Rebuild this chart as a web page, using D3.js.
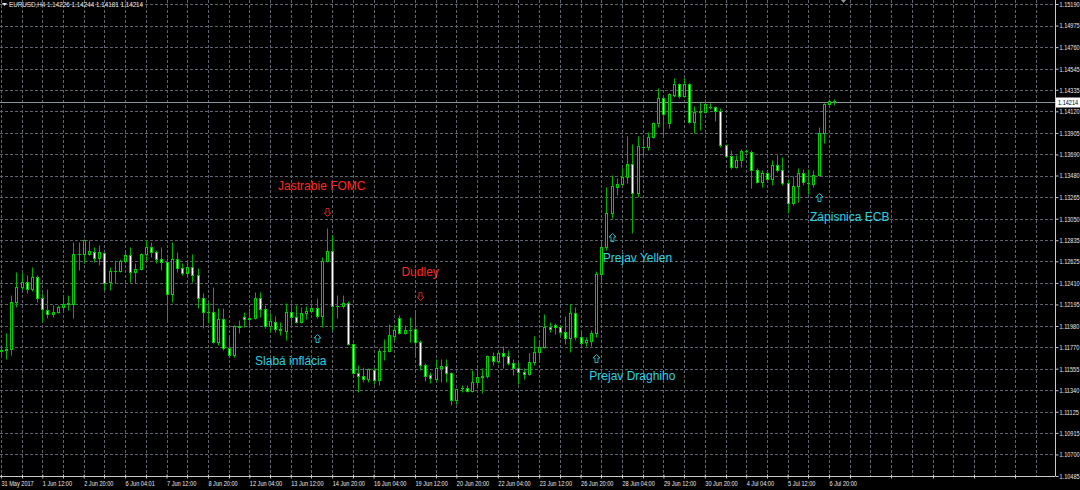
<!DOCTYPE html>
<html><head><meta charset="utf-8">
<script src="https://cdn.jsdelivr.net/npm/d3@7"></script>
<style>html,body{margin:0;padding:0;background:#000;}svg{display:block;}</style>
</head><body>
<svg id="chart" width="1080" height="490"></svg>
<script>
// ---------- DATA (EURUSD H4) ----------
const symbolTitle = "EURUSD,H4";
const opens = [1.11731,1.11741,1.11751,1.12220,1.12369,1.12419,1.12349,1.12469,1.12260,1.12140,
1.12100,1.12120,1.12170,1.12200,1.12200,1.12698,1.12698,1.12698,1.12718,1.12658,
1.12708,1.12419,1.12529,1.12525,1.12629,1.12688,1.12519,1.12549,1.12698,1.12768,
1.12718,1.12648,1.12619,1.12300,1.12648,1.12559,1.12509,1.12569,1.12489,1.12260,
1.12120,1.12115,1.11821,1.12050,1.11761,1.11691,1.11980,1.12070,1.12050,1.12060,
1.12260,1.12150,1.11980,1.12020,1.11950,1.11931,1.12120,1.12070,1.12020,1.12110,
1.12130,1.12160,1.12080,1.12629,1.12728,1.12180,1.12175,1.12210,1.11801,1.11512,
1.11482,1.11452,1.11542,1.11442,1.11731,1.11728,1.11881,1.12060,1.11911,1.11941,
1.11950,1.11821,1.11591,1.11492,1.11452,1.11561,1.11581,1.11512,1.11242,1.11362,
1.11360,1.11332,1.11422,1.11472,1.11477,1.11681,1.11631,1.11711,1.11681,1.11611,
1.11561,1.11522,1.11502,1.11621,1.11721,1.11771,1.11970,1.11990,1.11970,1.11921,
1.11861,1.12110,1.11871,1.11821,1.11831,1.11911,1.12499,1.12768,1.13107,1.13366,
1.13396,1.13466,1.13595,1.13307,1.13765,1.13762,1.13864,1.14004,1.14253,1.14004,
1.14283,1.14393,1.14273,1.14393,1.14014,1.14113,1.14113,1.14163,1.14160,1.14123,
1.13785,1.13675,1.13565,1.13635,1.13725,1.13715,1.13536,1.13416,1.13506,1.13446,
1.13585,1.13536,1.13406,1.13207,1.13376,1.13506,1.13406,1.13396,1.13486,1.13904,
1.14193,1.14226];
const highs = [1.11791,1.11911,1.12290,1.12519,1.12509,1.12489,1.12569,1.12489,1.12310,1.12349,
1.12190,1.12190,1.12290,1.12290,1.12818,1.12818,1.12848,1.12838,1.12768,1.12788,
1.12718,1.12569,1.12639,1.12648,1.12718,1.12768,1.12609,1.12708,1.12838,1.12818,
1.12738,1.12768,1.12658,1.12818,1.12718,1.12609,1.12619,1.12698,1.12559,1.12310,
1.12220,1.12369,1.12160,1.12160,1.11871,1.11990,1.12040,1.12120,1.12160,1.12320,
1.12320,1.12190,1.12110,1.12080,1.12020,1.12210,1.12210,1.12190,1.12170,1.12180,
1.12210,1.12260,1.12668,1.12957,1.12888,1.12290,1.12290,1.12230,1.11811,1.11591,
1.11571,1.11561,1.11561,1.11761,1.11851,1.12000,1.11990,1.12090,1.11990,1.12070,
1.12140,1.11841,1.11611,1.11522,1.11651,1.11651,1.11651,1.11522,1.11355,1.11392,
1.11392,1.11542,1.11561,1.11561,1.11691,1.11721,1.11721,1.11781,1.11741,1.11651,
1.11621,1.11561,1.11711,1.11881,1.11821,1.12100,1.12020,1.12010,1.11990,1.12080,
1.12200,1.12170,1.11921,1.11871,1.11941,1.12529,1.12838,1.13366,1.13486,1.13456,
1.13555,1.13874,1.13795,1.13874,1.13854,1.13914,1.14014,1.14353,1.14283,1.14303,
1.14453,1.14403,1.14453,1.14403,1.14173,1.14213,1.14243,1.14203,1.14173,1.14153,
1.13795,1.13735,1.13685,1.13745,1.13745,1.13735,1.13555,1.13536,1.13516,1.13635,
1.13685,1.13665,1.13446,1.13476,1.13555,1.13545,1.13545,1.13536,1.13964,1.14203,
1.14243,1.14244];
const lows = [1.11691,1.11651,1.11691,1.12170,1.12340,1.12310,1.12330,1.12220,1.12020,1.12060,
1.12070,1.12110,1.12120,1.12140,1.12060,1.12539,1.12609,1.12688,1.12619,1.12589,
1.12340,1.12340,1.12409,1.12519,1.12609,1.12419,1.12409,1.12539,1.12639,1.12668,
1.12609,1.12539,1.12020,1.12220,1.12519,1.12489,1.12469,1.12419,1.12160,1.11960,
1.12010,1.11811,1.11791,1.11741,1.11671,1.11671,1.11911,1.11970,1.11970,1.12050,
1.12070,1.11960,1.11921,1.11921,1.11891,1.11841,1.11990,1.12010,1.12010,1.12050,
1.12110,1.12060,1.11970,1.12619,1.11941,1.12060,1.12160,1.11791,1.11505,1.11322,
1.11422,1.11422,1.11402,1.11392,1.11641,1.11721,1.11841,1.11905,1.11901,1.11821,
1.11671,1.11542,1.11432,1.11412,1.11432,1.11422,1.11422,1.11192,1.11202,1.11322,
1.11322,1.11322,1.11362,1.11312,1.11462,1.11591,1.11611,1.11561,1.11591,1.11492,
1.11402,1.11452,1.11492,1.11591,1.11621,1.11761,1.11921,1.11901,1.11891,1.11801,
1.11721,1.11841,1.11761,1.11781,1.11781,1.11871,1.12439,1.12738,1.13057,1.13287,
1.13386,1.13406,1.12908,1.13267,1.13685,1.13735,1.13854,1.13964,1.13884,1.13954,
1.14263,1.14253,1.14263,1.14004,1.13904,1.13934,1.14103,1.14143,1.14024,1.13765,
1.13665,1.13545,1.13555,1.13565,1.13705,1.13356,1.13406,1.13366,1.13416,1.13386,
1.13516,1.13386,1.13107,1.13187,1.13217,1.13386,1.13297,1.13366,1.13476,1.13805,
1.14183,1.14181];
const closes = [1.11741,1.11751,1.12220,1.12369,1.12419,1.12349,1.12469,1.12260,1.12150,1.12100,
1.12120,1.12170,1.12200,1.12210,1.12698,1.12700,1.12838,1.12728,1.12658,1.12718,
1.12409,1.12529,1.12525,1.12629,1.12688,1.12519,1.12549,1.12698,1.12768,1.12718,
1.12648,1.12619,1.12300,1.12648,1.12559,1.12509,1.12569,1.12489,1.12260,1.12120,
1.12115,1.11821,1.12050,1.11761,1.11691,1.11980,1.11970,1.12050,1.12060,1.12260,
1.12150,1.11980,1.12030,1.11950,1.11941,1.12120,1.12070,1.12020,1.12110,1.12130,
1.12160,1.12080,1.12629,1.12728,1.12180,1.12175,1.12210,1.11801,1.11512,1.11482,
1.11452,1.11551,1.11442,1.11731,1.11728,1.11891,1.11941,1.11911,1.11941,1.11945,
1.11821,1.11591,1.11482,1.11462,1.11561,1.11581,1.11512,1.11242,1.11352,1.11360,
1.11332,1.11422,1.11472,1.11477,1.11681,1.11631,1.11711,1.11681,1.11611,1.11561,
1.11522,1.11502,1.11621,1.11721,1.11771,1.11970,1.11950,1.11970,1.11921,1.11861,
1.12110,1.11871,1.11811,1.11841,1.11911,1.12499,1.12768,1.13107,1.13376,1.13396,
1.13466,1.13595,1.13307,1.13775,1.13762,1.13864,1.14004,1.14253,1.14093,1.14293,
1.14393,1.14273,1.14393,1.14014,1.14113,1.14123,1.14193,1.14160,1.14123,1.13785,
1.13675,1.13565,1.13635,1.13725,1.13722,1.13536,1.13416,1.13506,1.13446,1.13585,
1.13536,1.13406,1.13207,1.13376,1.13506,1.13416,1.13403,1.13486,1.13904,1.14193,
1.14226,1.14214];

const priceTickValues = [1.15190,1.14975,1.14760,1.14545,1.14335,1.14120,1.13905,1.13690,1.13480,1.13265,1.13050,1.12835,1.12625,1.12410,1.12195,1.11980,1.11770,1.11555,1.11340,1.11125,1.10915,1.10700,1.10485];
const priceTickLabels = ["1.15190","1.14975","1.14760","1.14545","1.14335","1.14120","1.13905","1.13690","1.13480","1.13265","1.13050","1.12835","1.12625","1.12410","1.12195","1.11980","1.11770","1.11555","1.11340","1.11125","1.10915","1.10700","1.10485"];
const dateTickLabels = ["31 May 2017","1 Jun 12:00","2 Jun 20:00","6 Jun 04:01","7 Jun 12:00","8 Jun 20:00","12 Jun 04:00","13 Jun 12:00","14 Jun 20:00","16 Jun 04:00","19 Jun 12:00","20 Jun 20:00","22 Jun 04:00","23 Jun 12:00","26 Jun 20:00","28 Jun 04:00","29 Jun 12:00","30 Jun 20:00","4 Jul 04:00","5 Jul 12:00","6 Jul 20:00"];
const dateTickBars = [0,8,16,24,32,40,48,56,64,72,80,88,96,104,112,120,128,136,144,152,160];

// annotations: text, bar & price of text (centre/baseline), bar & price of arrow, direction
const noteTexts   = ["Jastrabie FOMC","Dudley","Slabá inflácia","Prejav Draghiho","Prejav Yellen","Zápisnica ECB"];
const noteTextBar = [62, 81, 56, 122, 123, 164];
const noteTextPx  = [1.13336, 1.12474, 1.11591, 1.11437, 1.12619, 1.13022];
const noteArrowBar= [63, 81, 61, 115, 118, 158];
const noteArrowPx = [1.13112, 1.12280, 1.11856, 1.11661, 1.12868, 1.13267];
const noteDir     = ["down","down","up","up","up","up"];

// ---------- DRAW ----------
const svg = d3.select("#chart");
const W = 1055, H = 476;
svg.append("rect").attr("width",1080).attr("height",490).attr("fill","#000");

const n = closes.length;
const x = d3.scaleLinear().domain([0, 161]).range([0.9, 834.2]);
const y = d3.scaleLinear().domain([1.10485, 1.15190]).range([476, 4]);
const FS = 0.8;   // horizontal squeeze of the small axis font
const FSH = 0.9;  // squeeze of the header font
const FONT = "'Liberation Sans', Arial, sans-serif";

// grid
const gridCol = "#5d6470";
const gridBars = d3.range(0, 204, 4);
svg.append("g").selectAll("line").data(gridBars).join("line")
  .attr("x1", d => Math.round(x(d)) + 0.5).attr("x2", d => Math.round(x(d)) + 0.5)
  .attr("y1", 0).attr("y2", H)
  .attr("stroke", gridCol).attr("stroke-dasharray", "3,2").attr("stroke-width", 1);
svg.append("g").selectAll("line").data(priceTickValues).join("line")
  .attr("x1", 0).attr("x2", W)
  .attr("y1", d => Math.round(y(d)) + 0.5).attr("y2", d => Math.round(y(d)) + 0.5)
  .attr("stroke", gridCol).attr("stroke-dasharray", "3,2").attr("stroke-width", 1);

// current price line
svg.append("line").attr("x1", 0).attr("x2", W)
  .attr("y1", Math.round(y(closes[n-1])) + 0.5).attr("y2", Math.round(y(closes[n-1])) + 0.5)
  .attr("stroke", "#8c96a0").attr("stroke-width", 1);

// candles
const idx = d3.range(n);
const cg = svg.append("g");
cg.selectAll("line.wick").data(idx).join("line").attr("class","wick")
  .attr("x1", i => Math.round(x(i)) + 0.5).attr("x2", i => Math.round(x(i)) + 0.5)
  .attr("y1", i => Math.round(y(highs[i])) + 0.5).attr("y2", i => Math.round(y(lows[i])) + 0.5)
  .attr("stroke", "#00b000").attr("stroke-width", 1);
const bodyH = i => Math.abs(Math.round(y(opens[i])) - Math.round(y(closes[i])));
cg.selectAll("rect.body").data(idx.filter(i => bodyH(i) >= 1)).join("rect").attr("class","body")
  .attr("x", i => Math.round(x(i)) - 0.5).attr("width", 2)
  .attr("y", i => Math.round(y(Math.max(opens[i], closes[i]))) + 0.5)
  .attr("height", bodyH)
  .attr("fill", i => closes[i] >= opens[i] ? "#000" : "#fff")
  .attr("stroke", "#00cc00").attr("stroke-width", 1);
cg.selectAll("line.doji").data(idx.filter(i => bodyH(i) < 1)).join("line").attr("class","doji")
  .attr("x1", i => Math.round(x(i)) - 1).attr("x2", i => Math.round(x(i)) + 2)
  .attr("y1", i => Math.round(y(closes[i])) + 0.5).attr("y2", i => Math.round(y(closes[i])) + 0.5)
  .attr("stroke", "#00cc00").attr("stroke-width", 1);

// annotations
function arrowPath(cx, cy, dir) {
  const s = dir === "up" ? 1 : -1;
  const pts = [[0,-4],[3.5,-0.5],[1.5,-0.5],[1.5,4],[-1.5,4],[-1.5,-0.5],[-3.5,-0.5]];
  return "M" + pts.map(p => [cx + p[0], cy + s * p[1]].join(",")).join("L") + "Z";
}
const ag = svg.append("g");
ag.selectAll("path").data(d3.range(noteTexts.length)).join("path")
  .attr("d", i => arrowPath(Math.round(x(noteArrowBar[i])) + 0.5, Math.round(y(noteArrowPx[i])) + 0.5, noteDir[i]))
  .attr("fill", "none")
  .attr("stroke", i => noteDir[i] === "down" ? "#c4201c" : "#1fb3c4").attr("stroke-width", 1);
ag.selectAll("text").data(d3.range(noteTexts.length)).join("text")
  .attr("x", i => x(noteTextBar[i])).attr("y", i => y(noteTextPx[i]))
  .attr("text-anchor", "middle")
  .attr("font-family", FONT).attr("font-size", 12)
  .attr("fill", i => noteDir[i] === "down" ? "#ff2a1f" : "#2ad2e4")
  .text(i => noteTexts[i]);

// right price axis
const yAxis = d3.axisRight(y).tickValues(priceTickValues)
  .tickFormat((d, i) => priceTickLabels[i]).tickSize(3).tickPadding(2);
const ya = svg.append("g").attr("transform", `translate(${W + 0.5},0)`).call(yAxis);
ya.select(".domain").attr("stroke", "#c8c8c8").attr("d", `M0,0V${H}`);
ya.selectAll(".tick line").attr("stroke", "#c8c8c8");
ya.selectAll(".tick text").attr("fill", "#e6e6e6")
  .attr("font-family", FONT).attr("font-size", 7)
  .attr("x", 4 / FS).attr("dy", "0.34em").attr("transform", `scale(${FS},1)`);

// bottom time axis
const xAxis = d3.axisBottom(x).tickValues(dateTickBars)
  .tickFormat((d, i) => dateTickLabels[i]).tickSize(3);
const xa = svg.append("g").attr("transform", `translate(0,${H + 0.5})`).call(xAxis);
xa.select(".domain").attr("stroke", "#c8c8c8").attr("d", `M0,0H${W}`);
xa.selectAll(".tick line").attr("stroke", "#c8c8c8").attr("y1", -2).attr("y2", 2);
xa.selectAll(".tick text").attr("fill", "#e6e6e6")
  .attr("font-family", FONT).attr("font-size", 7)
  .attr("text-anchor", "start").attr("x", 0).attr("y", 10).attr("dy", 0)
  .attr("transform", `scale(${FS},1)`);
// minor ticks
svg.append("g").selectAll("line").data(d3.range(4, 204, 8)).join("line")
  .attr("x1", d => Math.round(x(d)) + 0.5).attr("x2", d => Math.round(x(d)) + 0.5)
  .attr("y1", H - 1.5).attr("y2", H + 2.5).attr("stroke", "#c8c8c8");

// current price label box
const lp = closes[n-1];
svg.append("rect").attr("x", W + 1).attr("y", Math.round(y(lp)) - 4.5).attr("width", 24).attr("height", 10).attr("fill", "#fff");
svg.append("text").attr("x", (W + 3) / FS).attr("y", Math.round(y(lp)) + 3)
  .attr("transform", `scale(${FS},1)`)
  .attr("font-family", FONT).attr("font-size", 7).attr("fill", "#000")
  .text(d3.format(".5f")(lp));

// header
svg.append("path").attr("d", "M2,3L7,3L4.5,6Z").attr("fill", "#e6e6e6");
svg.append("text").attr("x", 9 / FSH).attr("y", 7).attr("transform", `scale(${FSH},1)`)
  .attr("font-family", FONT).attr("font-size", 7).attr("fill", "#e6e6e6")
  .text(`${symbolTitle}  ${d3.format(".5f")(opens[n-1])} ${d3.format(".5f")(highs[n-1])} ${d3.format(".5f")(lows[n-1])} ${d3.format(".5f")(closes[n-1])}`);

// chart shift marker
svg.append("path").attr("d", "M841,0L846,0L843.5,3Z").attr("fill", "#8c96a0");
</script>
</body></html>
